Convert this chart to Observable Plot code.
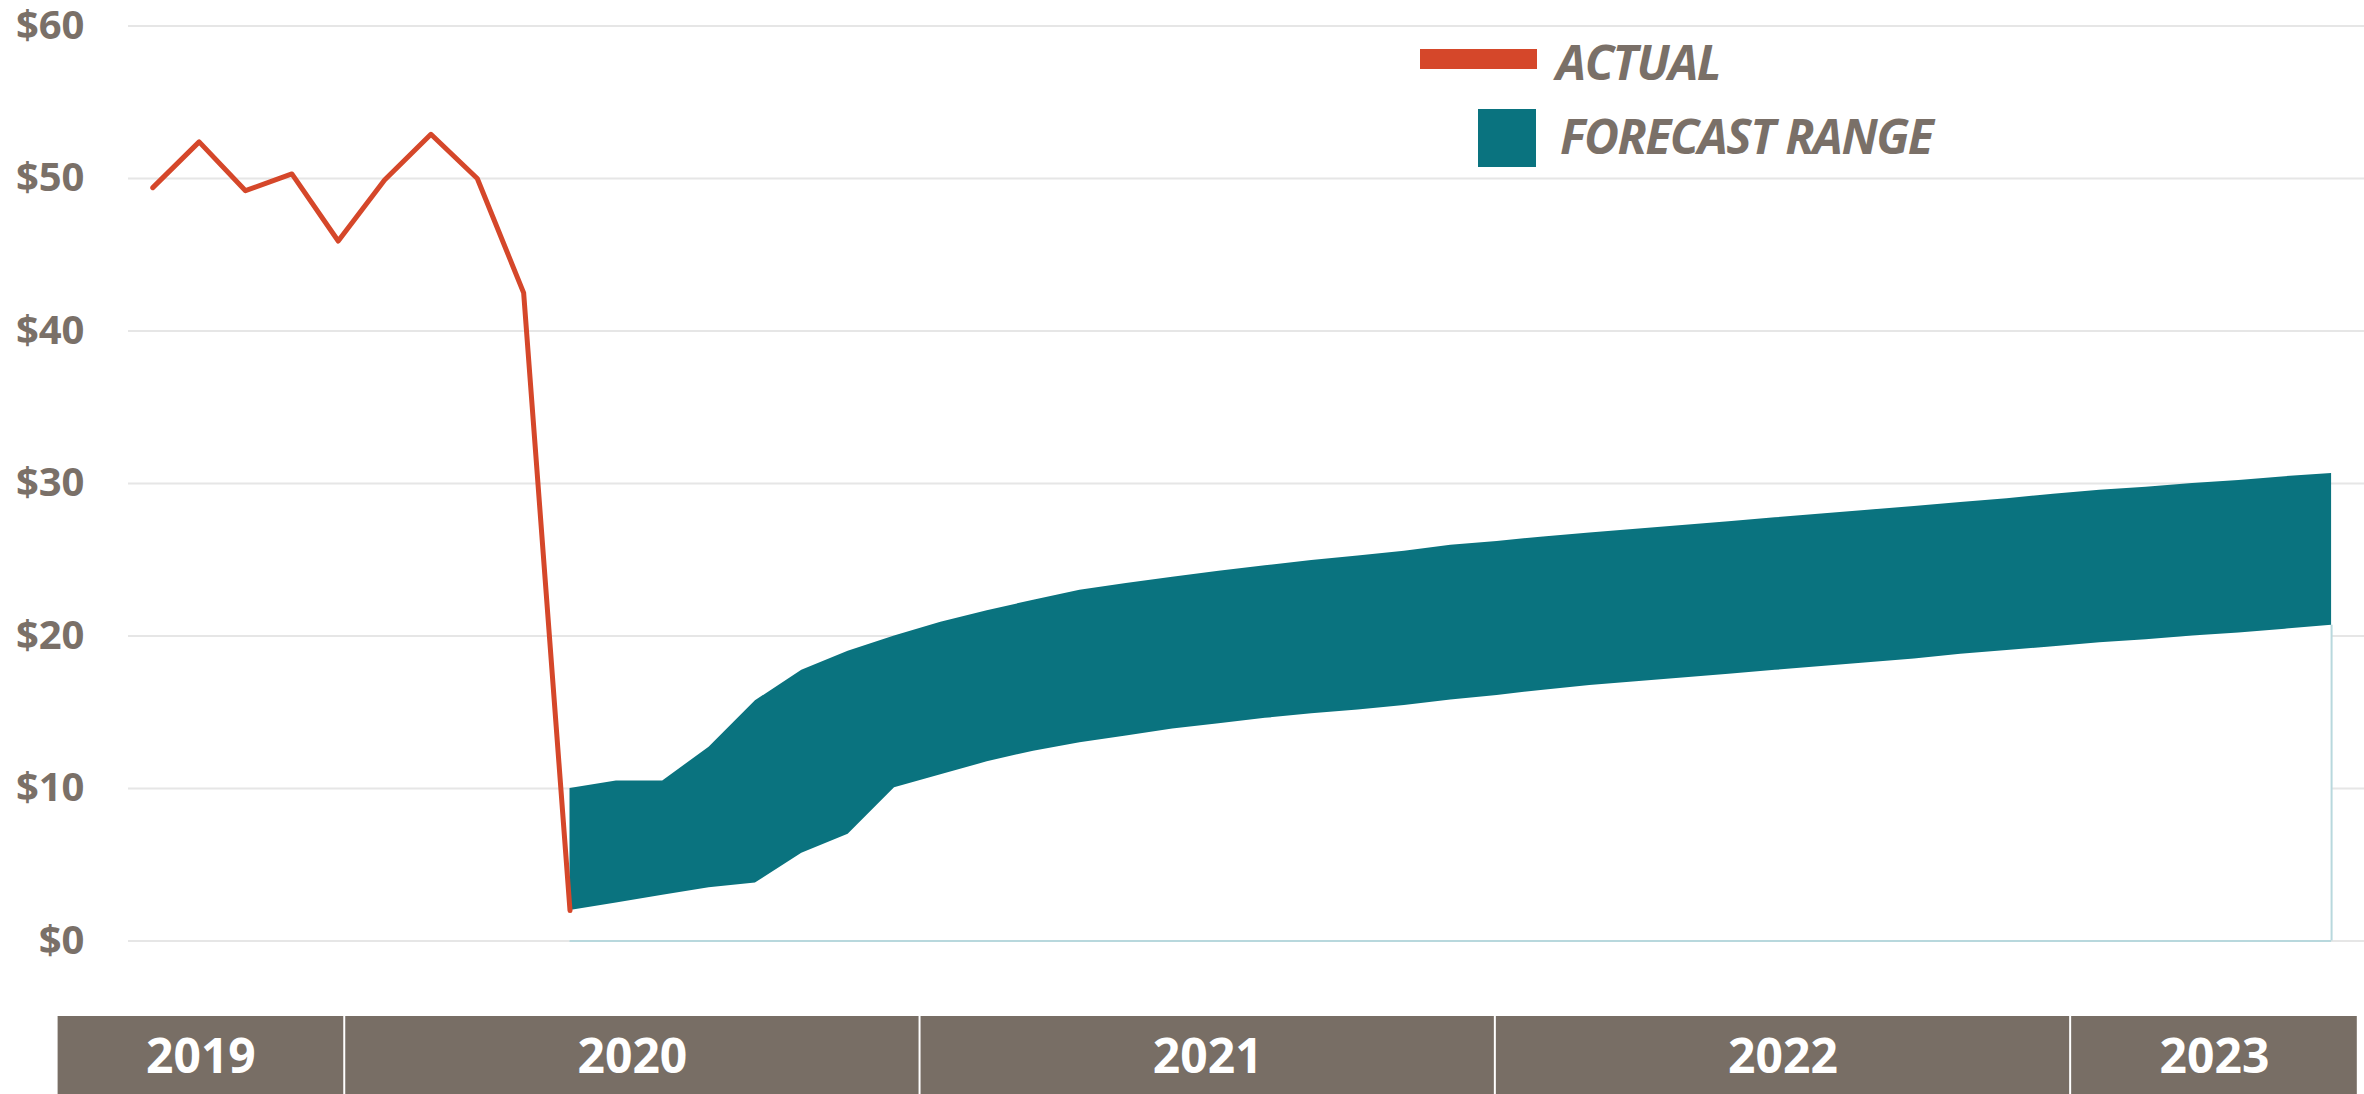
<!DOCTYPE html>
<html><head><meta charset="utf-8">
<script src="https://cdn.jsdelivr.net/npm/d3@7"></script>
<script src="https://cdn.jsdelivr.net/npm/@observablehq/plot@0.6"></script>
<style>
html,body{margin:0;padding:0;background:#fff;}
#wrap{position:relative;width:2364px;height:1094px;overflow:hidden;font-family:"Open Sans",sans-serif;}
#wrap svg{display:block;}
.legtxt{position:absolute;font-family:"Open Sans",sans-serif;font-weight:700;font-style:italic;font-size:48px;color:#7a7068;line-height:1;white-space:nowrap;letter-spacing:-1.5px;}
.swatch{position:absolute;}
</style></head><body><div id="wrap"></div>
<script>
// ---- data ----
const startYear = 2019, startMonth = 7; // first month on the chart: Jul 2019
const actualPrice = [49.4, 52.4, 49.2, 50.3, 45.9, 49.9, 52.9, 50.0, 42.5, 2.0]; // Jul 2019 .. Apr 2020
const forecastStart = 9; // Apr 2020
const forecastLow = [2.0, 2.5, 3.0, 3.5, 3.8, 5.75, 7.0, 10.05, 10.9, 11.75, 12.45, 13.0,
  13.45, 13.9, 14.25, 14.6, 14.9, 15.15, 15.45, 15.8, 16.1, 16.45, 16.75, 17.0,
  17.25, 17.5, 17.75, 18.0, 18.25, 18.5, 18.8, 19.05, 19.3, 19.55, 19.75, 20.0,
  20.2, 20.45, 20.7];
const forecastHigh = [10.0, 10.5, 10.5, 12.7, 15.75, 17.75, 19.0, 20.0, 20.9, 21.65, 22.35, 23.0,
  23.45, 23.85, 24.25, 24.6, 24.95, 25.25, 25.55, 25.95, 26.2, 26.5, 26.75, 27.0,
  27.25, 27.5, 27.75, 28.0, 28.25, 28.5, 28.75, 29.0, 29.3, 29.55, 29.75, 30.0,
  30.2, 30.45, 30.65];
const years = ["2019", "2020", "2021", "2022", "2023"];
const yearMonths = [6, 12, 12, 12, 6];
const yTicks = [0, 10, 20, 30, 40, 50, 60];
const legendLabels = ["ACTUAL", "FORECAST RANGE"];

// ---- tables ----
const monthLabel = i => {
  const m = startMonth - 1 + i;
  return `${startYear + Math.floor(m / 12)}-${String(m % 12 + 1).padStart(2, "0")}`;
};
const actual = actualPrice.map((v, i) => ({i, month: monthLabel(i), v}));
const forecast = forecastLow.map((lo, k) => ({i: forecastStart + k, month: monthLabel(forecastStart + k), low: lo, high: forecastHigh[k]}));
let acc = 0;
const yearBands = years.map((y, k) => { const a = acc; acc += yearMonths[k]; return {year: y, x1: a, x2: acc, mid: (a + acc) / 2}; });

const RED = "#d5472a", TEAL = "#0a737f", GREY = "#7a7068";

const chart = Plot.plot({
  width: 2364, height: 1016,
  marginLeft: 128, marginRight: 0, marginTop: 25.5, marginBottom: 75.5,
  x: {type: "linear", domain: [-0.524, 47.71], axis: null},
  y: {domain: [0, 60]},
  style: {fontFamily: "Open Sans, sans-serif", color: GREY, background: "#fff", overflow: "visible"},
  marks: [
    Plot.gridY(yTicks, {stroke: "#e6e6e6", strokeOpacity: 1, strokeWidth: 2}),
    Plot.axisY(yTicks, {tickSize: 0, tickPadding: 44, tickFormat: d => "$" + d, fontSize: 40, fontWeight: 700, fill: GREY, label: null}),
    Plot.areaY(forecast, {x: "i", y1: 0, y2: "low", fill: "#fff"}),
    Plot.ruleY([0], {x1: forecast[0].i, x2: forecast[forecast.length - 1].i, stroke: "#b8d8dd", strokeWidth: 2}),
    Plot.ruleX([forecast[forecast.length - 1]], {x: "i", y1: 0, y2: "low", stroke: "#b8d8dd", strokeWidth: 2}),
    Plot.areaY(forecast, {x: "i", y1: "low", y2: "high", fill: TEAL}),
    Plot.line(actual, {x: "i", y: "v", stroke: RED, strokeWidth: 5, strokeLinejoin: "round", strokeLinecap: "round"})
  ]
});

const band = Plot.plot({
  width: 2364, height: 78,
  marginLeft: 56.6, marginRight: 6.2, marginTop: 0, marginBottom: 0,
  x: {type: "linear", domain: [0, acc], axis: null},
  style: {fontFamily: "Open Sans, sans-serif", background: "#fff"},
  marks: [
    Plot.rectX(yearBands, {x1: "x1", x2: "x2", fill: "#786e65", insetLeft: 1, insetRight: 1}),
    Plot.text(yearBands, {x: "mid", text: "year", frameAnchor: "middle", fill: "#fff", fontSize: 48, fontWeight: 700, dy: 2})
  ]
});

const wrap = document.getElementById("wrap");
wrap.appendChild(chart);
wrap.appendChild(band);

// legend
const legend = [
  {label: legendLabels[0], color: RED, sw: {left: 1420, top: 49, width: 117, height: 20}, txt: {left: 1556, top: 38}},
  {label: legendLabels[1], color: TEAL, sw: {left: 1478, top: 109, width: 58, height: 58}, txt: {left: 1560, top: 112}}
];
for (const l of legend) {
  const s = document.createElement("div");
  s.className = "swatch";
  Object.assign(s.style, {left: l.sw.left + "px", top: l.sw.top + "px", width: l.sw.width + "px", height: l.sw.height + "px", background: l.color});
  wrap.appendChild(s);
  const t = document.createElement("div");
  t.className = "legtxt";
  t.textContent = l.label;
  Object.assign(t.style, {left: l.txt.left + "px", top: l.txt.top + "px"});
  wrap.appendChild(t);
}
</script>
</body></html>
